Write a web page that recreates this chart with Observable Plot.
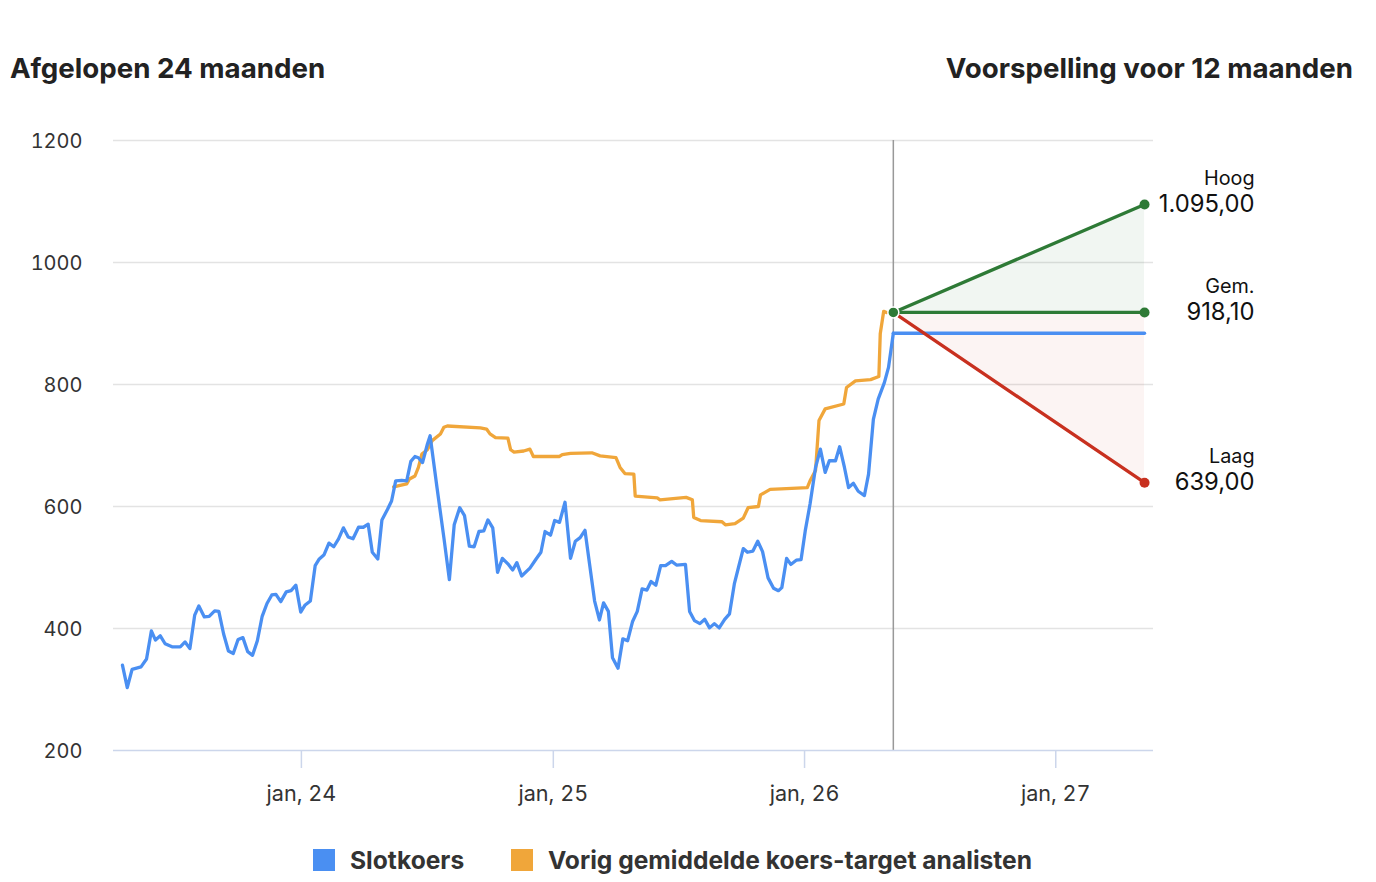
<!DOCTYPE html>
<html><head><meta charset="utf-8">
<script src="https://cdn.jsdelivr.net/npm/d3@7"></script>
<script src="https://cdn.jsdelivr.net/npm/@observablehq/plot@0.6"></script>
<style>
body{margin:0;background:#fff;font-family:Inter,"Liberation Sans",Arial,sans-serif;}
#wrap{position:relative;width:1376px;height:882px;overflow:hidden;}
#chart{position:absolute;left:0;top:0;}
.title{position:absolute;top:51px;font-size:27.7px;font-weight:700;color:#222;white-space:nowrap;}
.leg{position:absolute;top:845px;font-size:24.6px;font-weight:700;color:#333;display:flex;align-items:center;white-space:nowrap;}
.sw{display:inline-block;width:22px;height:22px;margin-right:15px;}
</style></head><body>
<div id="wrap">
<div id="chart"></div>
<div class="title" style="left:10px">Afgelopen 24 maanden</div>
<div class="title" style="right:23px">Voorspelling voor 12 maanden</div>
<div class="leg" style="left:313px"><span class="sw" style="background:#4a8ff2"></span>Slotkoers</div>
<div class="leg" style="left:511px"><span class="sw" style="background:#f0a63a"></span>Vorig gemiddelde koers-target analisten</div>
</div>
<script>
// ---- data ----
const closeDates = [
"2023-04-16","2023-04-23","2023-04-30","2023-05-13","2023-05-21","2023-05-28","2023-06-03","2023-06-10","2023-06-17","2023-06-27",
"2023-07-09","2023-07-16","2023-07-23","2023-07-30","2023-08-05","2023-08-13","2023-08-20","2023-08-28","2023-09-03","2023-09-10",
"2023-09-17","2023-09-24","2023-10-01","2023-10-08","2023-10-15","2023-10-22","2023-10-29","2023-11-05","2023-11-12","2023-11-19",
"2023-11-25","2023-12-02","2023-12-10","2023-12-17","2023-12-24","2023-12-31","2024-01-06","2024-01-14","2024-01-21","2024-01-27",
"2024-02-03","2024-02-10","2024-02-17","2024-02-24","2024-03-02","2024-03-09","2024-03-16","2024-03-24","2024-03-31","2024-04-07",
"2024-04-13","2024-04-21","2024-04-27","2024-05-05","2024-05-11","2024-05-17","2024-05-26","2024-06-02","2024-06-08","2024-06-14",
"2024-06-19","2024-06-25","2024-07-02","2024-07-06","2024-07-16","2024-07-26","2024-08-03","2024-08-10","2024-08-18","2024-08-25",
"2024-09-01","2024-09-08","2024-09-15","2024-09-22","2024-09-28","2024-10-05","2024-10-12","2024-10-19","2024-10-27","2024-11-03",
"2024-11-09","2024-11-16","2024-11-28","2024-12-07","2024-12-14","2024-12-20","2024-12-28","2025-01-03","2025-01-10","2025-01-18",
"2025-01-26","2025-02-02","2025-02-09","2025-02-16","2025-02-23","2025-03-02","2025-03-09","2025-03-15","2025-03-22","2025-03-28",
"2025-04-05","2025-04-12","2025-04-19","2025-04-26","2025-05-03","2025-05-10","2025-05-17","2025-05-23","2025-05-30","2025-06-06",
"2025-06-13","2025-06-22","2025-06-29","2025-07-12","2025-07-18","2025-07-25","2025-08-02","2025-08-09","2025-08-16","2025-08-23",
"2025-08-30","2025-09-07","2025-09-14","2025-09-21","2025-09-27","2025-10-04","2025-10-10","2025-10-18","2025-10-25","2025-11-01",
"2025-11-09","2025-11-17","2025-11-24","2025-11-29","2025-12-06","2025-12-12","2025-12-20","2025-12-27","2026-01-02","2026-01-09",
"2026-01-17","2026-01-24","2026-01-31","2026-02-06","2026-02-15","2026-02-21","2026-02-28","2026-03-06","2026-03-13","2026-03-20",
"2026-03-29","2026-04-04","2026-04-11","2026-04-18","2026-04-27","2026-05-03","2026-05-10"];
const closeValues = [
340,303,333,337,350,396,381,388,375,370,
370,378,367,422,437,419,420,429,428,391,
363,359,382,385,362,356,380,420,441,455,
456,444,460,462,471,427,438,445,503,514,
521,540,534,547,565,550,547,566,566,571,
525,514,578,595,609,642,643,642,674,682,
680,672,702,716,631,549,480,570,598,585,
535,534,559,560,578,565,492,515,506,496,
508,486,499,514,525,559,553,577,574,607,
515,543,549,561,503,445,414,442,428,352,
335,383,380,411,428,465,463,477,471,503,
503,510,504,505,428,413,408,415,401,408,
401,415,424,473,500,531,525,527,543,526,
483,466,462,467,515,505,512,513,560,604,
664,694,656,675,675,698,664,631,638,625,
618,653,743,776,803,828,884];

const targetDates = [
"2024-05-14","2024-06-02","2024-06-06","2024-06-14","2024-06-19","2024-06-24","2024-07-02","2024-07-09","2024-07-21","2024-07-26",
"2024-07-31","2024-09-17","2024-09-26","2024-10-01","2024-10-09","2024-10-27","2024-10-31","2024-11-05","2024-11-19","2024-11-28",
"2024-12-03","2025-01-10","2025-01-14","2025-01-26","2025-02-26","2025-03-10","2025-04-02","2025-04-08","2025-04-15","2025-04-28",
"2025-04-30","2025-06-01","2025-06-05","2025-07-13","2025-07-22","2025-07-24","2025-08-03","2025-09-03","2025-09-08","2025-09-22",
"2025-10-04","2025-10-11","2025-10-26","2025-10-29","2025-11-12","2025-11-28","2026-01-05","2026-01-09","2026-01-17","2026-01-22",
"2026-01-31","2026-02-27","2026-03-03","2026-03-16","2026-04-07","2026-04-19","2026-04-21","2026-04-26","2026-04-30"];
const targetValues = [
632,637,645,650,664,686,693,708,719,730,
732,729,727,719,713,712,693,689,691,694,
682,682,685,687,688,683,680,664,654,653,
617,614,611,615,611,582,577,575,570,572,
581,598,600,619,628,629,631,642,659,741,
760,768,795,806,808,813,883,920,918];

const forecastStart = "2026-05-10";
const forecastEnd = "2027-05-10";
const forecastNames = ["Hoog", "Gem.", "Laag"];
const forecastValues = [1095.00, 918.10, 639.00];
const forecastLabels = ["1.095,00", "918,10", "639,00"];
const lastClose = 884;

const xDomain = ["2023-04-03", "2027-05-23"];
const xTicks = ["2024-01-01", "2025-01-01", "2026-01-01", "2027-01-01"];
const xTickLabels = ["jan, 24", "jan, 25", "jan, 26", "jan, 27"];
const yTicks = [200, 400, 600, 800, 1000, 1200];
const yTickLabels = ["200", "400", "600", "800", "1000", "1200"];

// ---- build ----
const parse = d3.utcParse("%Y-%m-%d");
const closeData = closeDates.map((d, i) => ({date: parse(d), value: closeValues[i]}));
const targetData = targetDates.map((d, i) => ({date: parse(d), value: targetValues[i]}));
const fs = parse(forecastStart), fe = parse(forecastEnd);
const avg = forecastValues[1];
const flatData = [{date: fs, value: lastClose}, {date: fe, value: lastClose}];
const hiArea = [{date: fs, y1: avg, y2: avg}, {date: fe, y1: avg, y2: forecastValues[0]}];
const loArea = [{date: fs, y1: avg, y2: avg}, {date: fe, y1: forecastValues[2], y2: avg}];
const fLines = forecastValues.map((v, i) => [{date: fs, value: avg, k: i}, {date: fe, value: v, k: i}]).flat();
const fColors = ["#2e7a36", "#2e7a36", "#c8301f"];
const endPts = forecastValues.map((v, i) => ({date: fe, value: v, name: forecastNames[i], label: forecastLabels[i], color: fColors[i]}));
const xLabelMap = new Map(xTicks.map((d, i) => [+parse(d), xTickLabels[i]]));
const yLabelMap = new Map(yTicks.map((v, i) => [v, yTickLabels[i]]));
const FONT = 'Inter, "Liberation Sans", Arial, sans-serif';

const chart = Plot.plot({
  width: 1376, height: 882,
  marginTop: 140, marginBottom: 132, marginLeft: 113, marginRight: 223,
  style: {fontFamily: FONT, fontSize: "20px", color: "#333", background: "transparent", overflow: "visible"},
  x: {type: "utc", domain: xDomain.map(parse), label: null},
  y: {domain: [200, 1200], label: null},
  marks: [
    Plot.ruleY(yTicks.filter(v => v > 200), {stroke: "#e3e3e3", strokeWidth: 1.5}),
    Plot.axisY({ticks: yTicks, tickSize: 0, tickPadding: 31, fill: "#333", label: null, fontSize: 20, dy: 1.5, tickFormat: v => yLabelMap.get(v)}),
    Plot.axisX({ticks: xTicks.map(parse), tickSize: 18, tickPadding: 17, stroke: "#ccd6eb", strokeWidth: 1.5, fill: "#333", label: null, fontSize: 21.6, tickFormat: d => xLabelMap.get(+d)}),
    Plot.areaY(hiArea, {x: "date", y1: "y1", y2: "y2", fill: "#2e7a36", fillOpacity: 0.065}),
    Plot.areaY(loArea, {x: "date", y1: "y1", y2: "y2", fill: "#c8301f", fillOpacity: 0.055}),
    Plot.ruleX([fs], {y1: 200, y2: 1200, stroke: "#999", strokeWidth: 1.5}),
    Plot.line(targetData, {x: "date", y: "value", stroke: "#f0a63a", strokeWidth: 3.3, curve: "linear"}),
    Plot.line(closeData, {x: "date", y: "value", stroke: "#4a8ff2", strokeWidth: 3.3, curve: "linear"}),
    Plot.line(flatData, {x: "date", y: "value", stroke: "#4a8ff2", strokeWidth: 3.3}),
    Plot.line(fLines, {x: "date", y: "value", z: "k", stroke: d => fColors[d.k], strokeWidth: 3.3}),
    Plot.dot(endPts, {x: "date", y: "value", r: 5, fill: "color", stroke: "none"}),
    Plot.dot([{date: fs, value: avg}], {x: "date", y: "value", r: 5.5, fill: "#2e7a36", stroke: "#fff", strokeWidth: 1.5}),
    Plot.text(endPts, {x: "date", y: "value", text: "label", textAnchor: "end", dx: 110, fontSize: 23.8, fill: "#111"}),
    Plot.text(endPts, {x: "date", y: "value", text: "name", textAnchor: "end", dx: 110, dy: -26, fontSize: 19.8, fill: "#111"}),
    Plot.ruleY([200], {stroke: "#ccd6eb", strokeWidth: 1.5})
  ]
});
document.getElementById("chart").appendChild(chart);
</script>
</body></html>
